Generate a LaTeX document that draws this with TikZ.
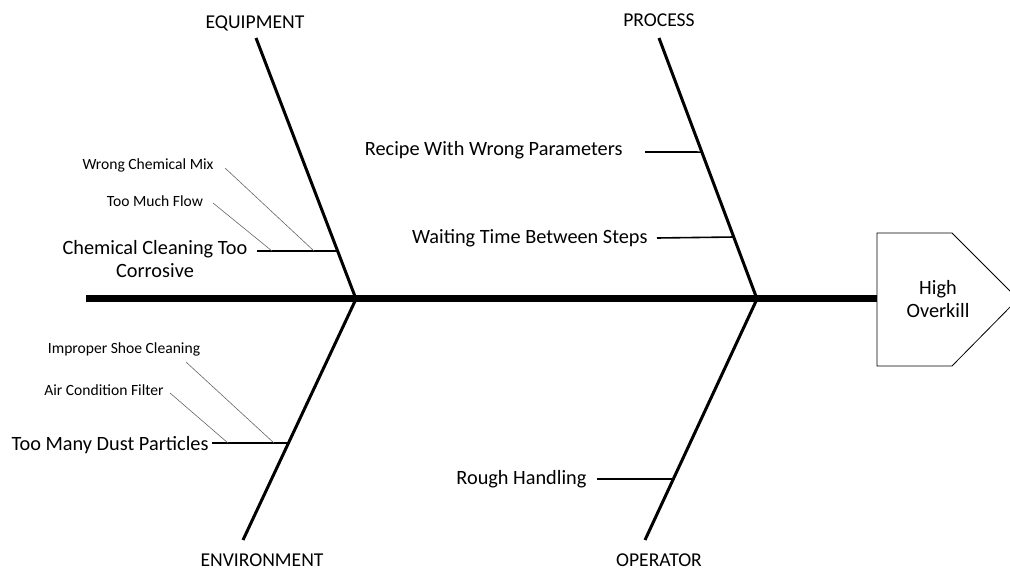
\documentclass[tikz,border=0pt]{standalone}
\usepackage{fontspec}
\setmainfont{Carlito}
\usetikzlibrary{calc}

\tikzset{
	spine/.style={line width=7pt},
	bone/.style={line width=3pt},
	twig/.style={line width=1.6pt},
	hair/.style={line width=0.6pt,black!60},
	causebig/.style={font=\fontsize{20.3}{23}\selectfont},
	causesmall/.style={font=\fontsize{15.6}{18}\selectfont},
	category/.style={font=\fontsize{19.6}{22}\selectfont},
}

\begin{document}
\begin{tikzpicture}[x=1pt,y=-1pt]
	
	\useasboundingbox (0,0) rectangle (1010,572);
	\clip (0,0) rectangle (1010,572);
	
	% Spine and joints
	\coordinate (tail) at (86,299);
	\coordinate (jointA) at (356,299);
	\coordinate (jointB) at (757,299);
	\coordinate (headin) at (877,299);
	
	% Bone ends
	\coordinate (equipend) at (256,38);
	\coordinate (procend) at (659,38);
	\coordinate (envend) at (243,540);
	\coordinate (operend) at (645,540);
	
	% Head
	\draw[line width=0.8pt] (877,233) -- (952,233) -- (1018,299) -- (952,366) -- (877,366) -- cycle;
	\node[align=center,causebig] (head) at (938,299) {High\\Overkill};
	
	\draw[spine] (tail) -- (headin);
	
	% Bones
	\draw[bone] (jointA) -- (equipend);
	\draw[bone] (jointB) -- (procend);
	\draw[bone] (jointA) -- (envend);
	\draw[bone] (jointB) -- (operend);
	
	% Categories
	\node[category] (equip) at (255,23) {EQUIPMENT};
	\node[category] (proc) at (659,20) {PROCESS};
	\node[category] (env) at (262,560) {ENVIRONMENT};
	\node[category] (oper) at (659,560) {OPERATOR};
	
	% Points on the bones
	\coordinate (eqA) at ($(jointA)!0.184!(equipend)$);
	\coordinate (prA) at ($(jointB)!0.563!(procend)$);
	\coordinate (prB) at ($(jointB)!0.2375!(procend)$);
	\coordinate (enA) at ($(jointA)!0.5975!(envend)$);
	\coordinate (opA) at ($(jointB)!0.747!(operend)$);
	
	% Causes
	\node[causebig,anchor=east] (recipe) at (626,150) {Recipe With Wrong Parameters};
	\node[causebig,anchor=east] (waiting) at (651,238) {Waiting Time Between Steps};
	\node[causebig,align=center] (chem) at (155,259) {Chemical Cleaning Too\\Corrosive};
	\node[causebig,anchor=east] (dust) at (212,445) {Too Many Dust Particles};
	\node[causebig,anchor=east] (rough) at (590,479) {Rough Handling};
	
	\draw[twig] (645,152) -- (prA);
	\draw[twig] (waiting.east -| 657,0) -- (prB);
	\draw[twig] (257,251) -- (eqA);
	\draw[twig] (dust.east |- enA) -- (enA);
	\draw[twig] (rough.east -| 597,0) -- (opA);
	
	% Sub causes
	\node[causesmall] (mix) at (148,165) {Wrong Chemical Mix};
	\node[causesmall] (flow) at (155,201) {Too Much Flow};
	\node[causesmall] (shoe) at (124,349) {Improper Shoe Cleaning};
	\node[causesmall] (filter) at (104,390) {Air Condition Filter};
	
	\draw[hair] (225,168) -- (314,251);
	\draw[hair] (213,203) -- (272,251);
	\draw[hair] (186,362) -- (274,443);
	\draw[hair] (170,393) -- (228,443);
	
\end{tikzpicture}
\end{document}
